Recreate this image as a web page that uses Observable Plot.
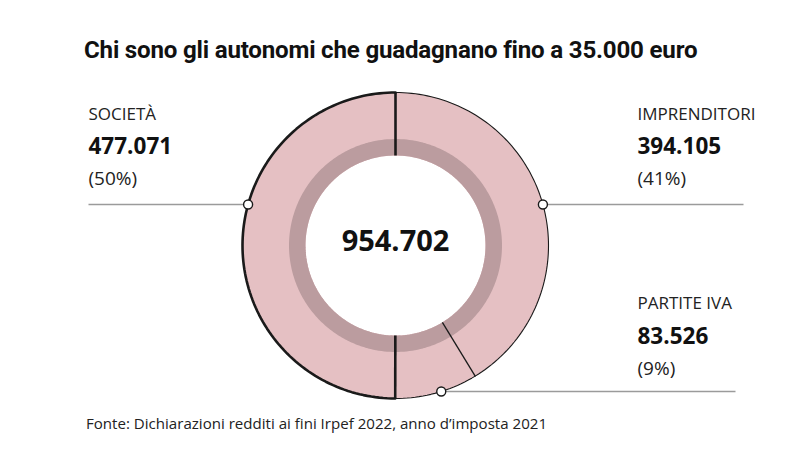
<!DOCTYPE html>
<html>
<head>
<meta charset="utf-8">
<script src="https://cdn.jsdelivr.net/npm/d3@7"></script>
<script src="https://cdn.jsdelivr.net/npm/@observablehq/plot@0.6"></script>
<style>
  html, body { margin: 0; padding: 0; background: #fff; }
  #wrap { position: relative; width: 800px; height: 455px; overflow: hidden; background:#fff; }
  #title { position: absolute; left: 84px; top: 36px; font-family: "Liberation Sans Narrow", "Roboto", sans-serif; font-weight: 700; font-size: 25px; line-height: 28px; color: #111; white-space: nowrap; letter-spacing: -0.2px; }
  #chart { position: absolute; left: 0; top: 80px; }
  #foot { position: absolute; left: 86px; top: 413px; font-family: "Open Sans", sans-serif; font-size: 14.5px; line-height: 20px; color: #222; white-space: nowrap; }
</style>
</head>
<body>
<div id="wrap">
  <div id="title"><span>Chi sono gli autonomi che guadagnano fino a 35.000 euro</span></div>
  <div id="chart"></div>
  <div id="foot"><span>Fonte: Dichiarazioni redditi ai fini Irpef 2022, anno d’imposta 2021</span></div>
</div>
<script>
// ---- data ----
const categories = ["SOCIETÀ", "IMPRENDITORI", "PARTITE IVA"];
const values = [477071, 394105, 83526];
const totalValue = 954702;
// order of segments clockwise from 12 o'clock
const ringOrder = ["IMPRENDITORI", "PARTITE IVA", "SOCIETÀ"];
const highlighted = "SOCIETÀ";

// ---- layout (page pixels) ----
const W = 800, SVG_TOP = 80, H = 325;
const CX = 395, CY = 245, R = 153;
const R_IN = 90 / R;          // inner white hole
const R_GRAY_OUT = 106.5 / R; // grey ring outer edge
const labelLayout = {
  "SOCIETÀ":      {tx: 88,  rows: [119, 153, 184], leaderY: 204, leaderEnd: 88,  side: -1},
  "IMPRENDITORI": {tx: 637, rows: [119, 153, 184], leaderY: 204, leaderEnd: 743, side: 1},
  "PARTITE IVA":  {tx: 637, rows: [308, 343, 374], leaderY: 391, leaderEnd: 735, side: 1}
};
const pink = "#e5c0c3", grey = "#bb9c9f", ink = "#1a1a1a", leaderColor = "#9b9b9b";

const toX = px => (px - CX) / R;
const toY = py => (CY - py) / R;

const locale = d3.formatLocale({decimal: ",", thousands: ".", grouping: [3], currency: ["", "€"]});
const fmt = locale.format(",d");

// ---- segments ----
const valueOf = c => values[categories.indexOf(c)];
let cum = 0;
const segs = ringOrder.map(c => {
  const a0 = cum / totalValue * 2 * Math.PI;
  cum += valueOf(c);
  const a1 = cum / totalValue * 2 * Math.PI;
  return {cat: c, a0, a1};
});
const N = 120;
const polyPts = [], outerPts = [];
for (const s of segs) {
  const n = Math.max(4, Math.round(N * (s.a1 - s.a0) / Math.PI));
  const outer = d3.range(n + 1).map(k => s.a0 + (s.a1 - s.a0) * k / n);
  for (const a of outer) { polyPts.push({cat: s.cat, x: Math.sin(a), y: Math.cos(a)}); outerPts.push({cat: s.cat, x: Math.sin(a), y: Math.cos(a)}); }
  for (const a of outer.slice().reverse()) polyPts.push({cat: s.cat, x: R_IN * Math.sin(a), y: R_IN * Math.cos(a)});
}
const rMid = (R_IN + R_GRAY_OUT) / 2;
const greyRing = d3.range(241).map(k => { const a = k / 240 * 2 * Math.PI; return {x: rMid * Math.sin(a), y: rMid * Math.cos(a)}; });

const dividers = segs.map((s, i) => {
  const prev = segs[(i + segs.length - 1) % segs.length];
  const thick = s.cat === highlighted || prev.cat === highlighted;
  return {x1: R_IN * Math.sin(s.a0), y1: R_IN * Math.cos(s.a0), x2: Math.sin(s.a0), y2: Math.cos(s.a0), thick};
});

// ---- labels ----
const nameRows = [], numRows = [], pctRows = [], leaders = [], dots = [];
categories.forEach((c, i) => {
  const L = labelLayout[c];
  nameRows.push({x: toX(L.tx), y: toY(L.rows[0] - 0.32 * 17), t: c});
  numRows.push({x: toX(L.tx), y: toY(L.rows[1] - 0.32 * 22.5), t: fmt(values[i])});
  pctRows.push({x: toX(L.tx), y: toY(L.rows[2] - 0.32 * 19), t: `(${Math.round(values[i] / totalValue * 100)}%)`});
  const yy = toY(L.leaderY);
  const xx = L.side * Math.sqrt(1 - yy * yy);
  leaders.push({x1: toX(L.leaderEnd), x2: xx, y: yy});
  dots.push({x: xx, y: yy});
});

const labelFont = "'Open Sans', 'Noto Sans', sans-serif";

const chart = Plot.plot({
  width: W, height: H, margin: 0,
  x: {domain: [toX(0), toX(W)], axis: null},
  y: {domain: [toY(SVG_TOP + H), toY(SVG_TOP)], axis: null},
  style: {background: "transparent"},
  marks: [
    Plot.link(leaders, {x1: "x1", x2: "x2", y1: "y", y2: "y", stroke: leaderColor, strokeWidth: 1.5}),
    Plot.line(polyPts, {x: "x", y: "y", z: "cat", fill: pink, stroke: "none", curve: "linear"}),
    Plot.line(greyRing, {x: "x", y: "y", stroke: grey, strokeWidth: (R_GRAY_OUT - R_IN) * R, curve: "linear"}),
    Plot.line(outerPts.filter(d => d.cat !== highlighted), {x: "x", y: "y", z: "cat", stroke: ink, strokeWidth: 1.1}),
    Plot.line(outerPts.filter(d => d.cat === highlighted), {x: "x", y: "y", z: "cat", stroke: ink, strokeWidth: 2.6, strokeLinecap: "round"}),
    Plot.link(dividers.filter(d => !d.thick), {x1: "x1", y1: "y1", x2: "x2", y2: "y2", stroke: ink, strokeWidth: 1.3}),
    Plot.link(dividers.filter(d => d.thick), {x1: "x1", y1: "y1", x2: "x2", y2: "y2", stroke: ink, strokeWidth: 2.6}),
    Plot.dot(dots, {x: "x", y: "y", r: 4.5, fill: "#fff", stroke: ink, strokeWidth: 1.4}),
    Plot.text([{x: 0, y: toY(241), t: fmt(totalValue)}], {x: "x", y: "y", text: "t", fontSize: 29, fontWeight: 700, fontFamily: labelFont, fill: "#111", textAnchor: "middle", lineAnchor: "middle"}),
    Plot.text(nameRows, {x: "x", y: "y", text: "t", fontSize: 17, fontWeight: 400, fontFamily: labelFont, fill: "#222", textAnchor: "start", lineAnchor: "middle"}),
    Plot.text(numRows, {x: "x", y: "y", text: "t", fontSize: 22.5, fontWeight: 700, fontFamily: labelFont, fill: "#111", textAnchor: "start", lineAnchor: "middle"}),
    Plot.text(pctRows, {x: "x", y: "y", text: "t", fontSize: 19, fontWeight: 400, fontFamily: labelFont, fill: "#222", textAnchor: "start", lineAnchor: "middle"})
  ]
});
document.getElementById("chart").appendChild(chart);

// fit title/footer widths to reference
function fit(id, target) {
  const el = document.getElementById(id), span = el.querySelector("span");
  const fs = parseFloat(getComputedStyle(el).fontSize);
  const w = span.getBoundingClientRect().width;
  if (w > 0) el.style.fontSize = (fs * target / w).toFixed(2) + "px";
}
fit("title", 614);
fit("foot", 461);
</script>
</body>
</html>
